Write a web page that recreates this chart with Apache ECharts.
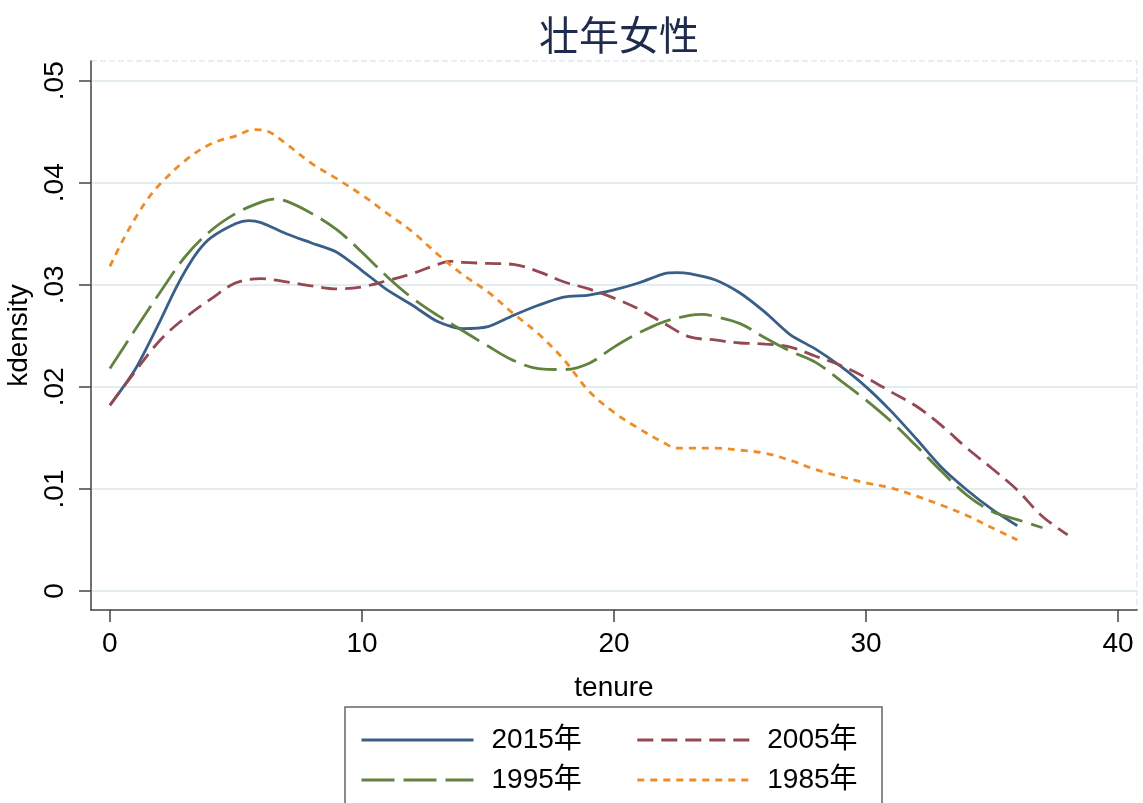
<!DOCTYPE html>
<html>
<head>
<meta charset="utf-8">
<script src="https://cdn.jsdelivr.net/npm/echarts@6/dist/echarts.min.js"></script>
<style>
html,body{margin:0;padding:0;background:#fff;}
#chart{width:1143px;height:803px;}
</style>
</head>
<body>
<div id="chart"></div>
<script>
// ---- data ----
const title = '壮年女性';
const xName = 'tenure';
const yName = 'kdensity';
const xTicks = [0, 10, 20, 30, 40];
const yTicks = [0, 0.01, 0.02, 0.03, 0.04, 0.05];

const t2015 = [0,1,2,2.5,3,3.5,4,5,5.5,6,7,8,9,10,11,12,13,14,15,16,17,18,19,20,21,22,22.5,23,24,25,26,27,28,29,30,31,32,33,34,35,36];
const v2015 = [.0182,.0217,.0265,.0291,.0314,.0333,.0346,.0360,.0363,.0361,.0350,.0341,.0332,.0314,.0295,.0280,.0264,.0257,.0259,.0270,.0280,.0288,.0290,.0295,.0302,.0311,.0312,.0311,.0305,.0292,.0273,.0251,.0237,.0220,.0200,.0176,.0149,.0121,.0099,.0080,.0064];

const t2005 = [0,1,2,3,4,5,6,7,8,9,10,11,12,13,13.5,14,15,16,17,18,19,20,21,22,23,24,25,26,27,28,29,30,31,32,33,34,35,36,37,38];
const v2005 = [.0182,.0215,.0246,.0268,.0286,.0302,.0306,.0303,.0299,.0296,.0298,.0304,.0311,.0320,.0323,.0322,.0321,.0320,.0313,.0303,.0296,.0287,.0276,.0262,.0249,.0246,.0243,.0242,.0239,.0230,.0221,.0209,.0195,.0181,.0162,.0140,.0120,.0099,.0073,.0055];

const t1995 = [0,1,2,3,4,5,6,6.5,7,8,9,10,11,12,13,14,15,16,17,18,19,20,21,22,23,23.5,24,25,26,27,28,29,30,31,32,33,34,35,36,37];
const v1995 = [.0218,.0256,.0293,.0328,.0353,.0370,.0381,.0384,.0382,.0370,.0354,.0332,.0308,.0287,.0270,.0255,.0240,.0226,.0218,.0217,.0223,.0239,.0253,.0264,.0270,.0271,.0269,.0262,.0248,.0235,.0224,.0206,.0187,.0166,.0142,.0117,.0094,.0078,.0070,.0062];

const t1985 = [0,0.5,1,1.5,2,3,4,5,5.7,6.3,7,8,9,10,11,12,13,14,15,16,17,18,19,20,21,22,22.5,23,24,25,26,27,28,29,30,31,32,33,34,35,36];
const v1985 = [.0318,.0343,.0365,.0384,.0399,.0422,.0438,.0446,.0452,.0450,.0438,.0419,.0404,.0388,.0370,.0352,.0330,.0310,.0293,.0272,.0252,.0227,.0196,.0175,.0159,.0145,.0140,.0140,.0140,.0138,.0135,.0128,.0119,.0112,.0106,.0101,.0093,.0084,.0074,.0062,.0050];

const names = ['2015年', '2005年', '1995年', '1985年'];
// ----------------

function pairs(ts, vs){ return ts.map((t,i)=>[t, vs[i]]); }

const FONT = '"Liberation Sans", Arial, "Noto Sans CJK SC", sans-serif';
const chart = echarts.init(document.getElementById('chart'), null, {renderer:'canvas'});

const styles = [
  {color:'#395f88', type:'solid', smooth:0.25},
  {color:'#954852', type:[16,8], smooth:0.35},
  {color:'#62823f', type:[33,9], smooth:0.35},
  {color:'#ee8c27', type:[7,6], smooth:0.35}
];
const dataSets = [pairs(t2015,v2015), pairs(t2005,v2005), pairs(t1995,v1995), pairs(t1985,v1985)];

const legendCommon = {
  left: 360, orient:'horizontal', itemWidth:112, itemHeight:14, itemGap:54,
  selectedMode:false, padding:0,
  itemStyle:{opacity:0},
  lineStyle:{width:3},
  textStyle:{fontSize:28, color:'#000', fontFamily:FONT, padding:[0,0,0,13]}
};

chart.setOption({
  animation:false,
  backgroundColor:'#fff',
  title:{
    text:title, left:614, top:10, textAlign:'center',
    textStyle:{fontSize:40, fontWeight:'normal', color:'#1f2b4d', fontFamily:'"Noto Sans CJK SC", sans-serif'}
  },
  graphic:[{
    type:'rect', z:-1, silent:true,
    shape:{x:345, y:707, width:537, height:130},
    style:{fill:'#fff', stroke:'#666', lineWidth:1.5}
  }],
  legend:[
    Object.assign({}, legendCommon, {top:726, data:[names[0], names[1]]}),
    Object.assign({}, legendCommon, {top:766, data:[names[2], names[3]]})
  ],
  grid:{
    left:91, right:6, top:61, bottom:193, outerBoundsMode:'none',
    show:true, borderColor:'#dfeaee', borderWidth:1.5, borderType:'dashed', backgroundColor:'#fff'
  },
  xAxis:{
    type:'value', min:-0.75, max:40.75,
    name:xName, nameLocation:'middle', nameGap:64,
    nameTextStyle:{fontSize:28, color:'#000', fontFamily:FONT},
    axisLine:{show:true, onZero:false, lineStyle:{color:'#444', width:1.5}},
    axisTick:{show:true, customValues:xTicks, length:12, lineStyle:{color:'#444', width:1.5}},
    axisLabel:{customValues:xTicks, fontSize:28, color:'#000', fontFamily:FONT, margin:20},
    splitLine:{show:false}
  },
  yAxis:{
    type:'value', min:-0.00186, max:0.05193,
    name:yName, nameLocation:'middle', nameGap:56, nameRotate:90,
    nameTextStyle:{fontSize:28, color:'#000', fontFamily:FONT},
    axisLine:{show:true, onZero:false, lineStyle:{color:'#444', width:1.5}},
    axisTick:{show:true, customValues:yTicks, length:12, lineStyle:{color:'#444', width:1.5}},
    axisLabel:{
      customValues:yTicks, rotate:90, fontSize:28, color:'#000', fontFamily:FONT, margin:22,
      formatter:function(v){ if (Math.abs(v) < 1e-9) return '0'; return v.toFixed(2).replace(/^0/, ''); }
    },
    splitLine:{show:true, lineStyle:{color:'#e3ecef', width:2}}
  },
  series: names.map((n,i)=>({
    name:n, type:'line', data:dataSets[i], symbol:'none', showSymbol:false,
    smooth:styles[i].smooth, clip:true,
    lineStyle:{color:styles[i].color, width:2.8, type:styles[i].type},
    itemStyle:{color:styles[i].color}
  }))
});
</script>
</body>
</html>
